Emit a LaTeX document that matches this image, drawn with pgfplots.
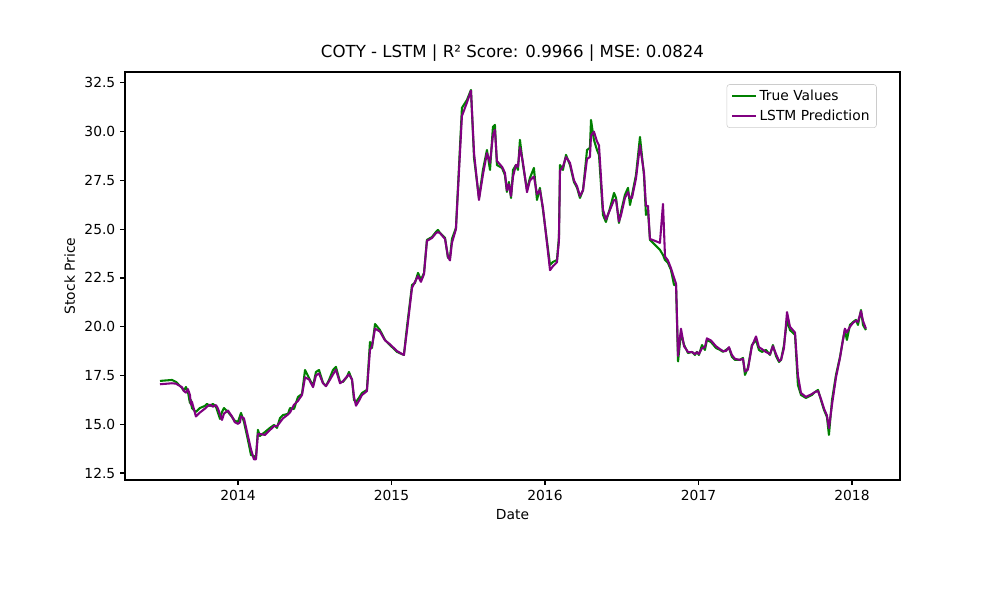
\documentclass[border=0pt]{standalone}
\usepackage{pgfplots}
\pgfplotsset{compat=1.18}
\usepackage{pgfplotstable}
\usepackage{fontspec}
\setmainfont{DejaVu Sans}
\definecolor{mgreen}{RGB}{0,128,0}
\definecolor{mpurple}{RGB}{128,0,128}
\pgfplotstableread{
x true pred
2013.492 17.22 17.05
2013.570 17.27 17.10
2013.596 17.17 17.08
2013.635 16.86 16.90
2013.648 16.71 16.70
2013.661 16.91 16.62
2013.674 16.66 16.80
2013.687 16.09 16.50
2013.694 16.24 16.00
2013.700 15.83 16.15
2013.726 15.63 15.40
2013.752 15.83 15.60
2013.785 15.94 15.80
2013.798 16.04 15.90
2013.818 15.94 16.00
2013.837 16.04 15.90
2013.857 15.89 15.98
2013.870 15.58 15.80
2013.883 15.27 15.50
2013.896 15.63 15.22
2013.909 15.83 15.55
2013.935 15.63 15.70
2013.961 15.37 15.40
2013.980 15.17 15.10
2014.000 15.12 15.02
2014.013 15.42 15.10
2014.020 15.58 15.40
2014.039 15.12 15.30
2014.065 14.19 14.40
2014.085 13.42 13.70
2014.104 13.37 13.20
2014.117 13.27 13.20
2014.130 14.71 14.50
2014.143 14.40 14.50
2014.176 14.60 14.45
2014.208 14.81 14.70
2014.235 14.96 14.90
2014.254 14.81 14.90
2014.274 15.32 15.10
2014.293 15.47 15.30
2014.326 15.53 15.50
2014.339 15.83 15.60
2014.365 15.78 16.00
2014.391 16.40 16.20
2014.417 16.55 16.50
2014.437 17.78 17.40
2014.463 17.37 17.30
2014.489 16.96 16.90
2014.508 17.68 17.50
2014.528 17.78 17.60
2014.554 17.12 17.10
2014.573 16.96 16.95
2014.593 17.27 17.20
2014.619 17.78 17.55
2014.638 17.94 17.80
2014.665 17.17 17.10
2014.684 17.17 17.20
2014.710 17.42 17.45
2014.723 17.68 17.55
2014.743 17.27 17.30
2014.756 16.24 16.40
2014.769 16.14 15.95
2014.788 16.35 16.20
2014.808 16.60 16.50
2014.840 16.76 16.70
2014.860 19.22 18.80
2014.873 18.91 19.00
2014.893 20.14 19.90
2014.925 19.83 19.75
2014.958 19.32 19.30
2014.990 19.06 19.10
2015.036 18.71 18.75
2015.081 18.55 18.55
2015.101 19.99 19.80
2015.134 22.14 22.00
2015.153 22.24 22.30
2015.173 22.76 22.60
2015.192 22.40 22.30
2015.212 22.76 22.70
2015.231 24.45 24.40
2015.264 24.60 24.55
2015.290 24.86 24.80
2015.303 24.96 24.85
2015.316 24.81 24.80
2015.349 24.55 24.50
2015.368 23.53 23.60
2015.381 23.53 23.40
2015.394 24.50 24.30
2015.420 25.06 25.00
2015.459 31.22 30.80
2015.492 31.63 31.50
2015.518 32.14 32.10
2015.538 28.65 28.90
2015.570 26.60 26.50
2015.596 28.04 27.80
2015.622 29.06 28.90
2015.642 28.04 28.40
2015.661 30.24 29.80
2015.674 30.35 30.10
2015.687 28.29 28.50
2015.720 28.14 28.20
2015.739 27.78 27.90
2015.752 26.91 27.00
2015.765 27.42 27.30
2015.779 26.60 26.70
2015.792 28.04 27.70
2015.811 28.29 28.30
2015.824 28.04 28.20
2015.837 29.58 29.20
2015.857 28.29 28.40
2015.883 27.01 26.90
2015.902 27.63 27.50
2015.928 28.14 27.70
2015.948 26.50 26.80
2015.967 27.12 27.00
2015.987 25.99 26.10
2016.033 23.17 22.90
2016.052 23.32 23.10
2016.078 23.42 23.30
2016.091 24.60 24.40
2016.098 28.29 28.00
2016.117 28.04 28.20
2016.137 28.81 28.70
2016.163 28.29 28.40
2016.189 27.42 27.50
2016.209 27.12 27.20
2016.228 26.60 26.70
2016.248 27.01 27.00
2016.274 29.06 28.60
2016.293 29.17 28.70
2016.300 30.60 29.80
2016.319 29.58 30.00
2016.339 29.06 29.50
2016.352 28.81 29.30
2016.378 25.73 26.00
2016.397 25.37 25.50
2016.424 26.09 26.00
2016.450 26.86 26.50
2016.463 26.60 26.50
2016.482 25.32 25.40
2016.495 25.88 25.70
2016.521 26.76 26.60
2016.541 27.12 26.90
2016.554 26.24 26.60
2016.567 26.76 26.60
2016.593 27.78 27.60
2016.619 29.73 29.30
2016.645 27.78 27.90
2016.658 25.73 26.20
2016.671 25.99 26.20
2016.684 24.45 24.50
2016.717 24.19 24.40
2016.749 23.94 24.30
2016.769 23.68 26.30
2016.782 23.42 23.60
2016.801 23.27 23.40
2016.821 22.91 23.00
2016.841 22.14 22.50
2016.854 22.14 22.20
2016.867 18.22 18.50
2016.886 19.68 19.90
2016.906 19.07 19.00
2016.932 18.65 18.70
2016.958 18.71 18.70
2016.977 18.55 18.60
2016.990 18.71 18.70
2017.003 18.55 18.60
2017.023 19.06 18.90
2017.042 18.81 18.95
2017.055 19.32 19.40
2017.081 19.22 19.30
2017.114 18.91 19.00
2017.140 18.81 18.85
2017.160 18.71 18.75
2017.179 18.81 18.75
2017.199 18.91 18.95
2017.218 18.45 18.55
2017.238 18.30 18.35
2017.270 18.30 18.30
2017.290 18.40 18.35
2017.303 17.53 17.70
2017.322 17.89 17.80
2017.348 19.06 19.00
2017.375 19.32 19.50
2017.394 18.81 18.95
2017.414 18.71 18.85
2017.440 18.81 18.70
2017.466 18.55 18.60
2017.485 19.06 19.00
2017.505 18.50 18.60
2017.525 18.19 18.25
2017.538 18.30 18.30
2017.557 19.06 18.90
2017.577 20.35 20.75
2017.596 19.83 20.00
2017.629 19.58 19.70
2017.648 17.01 17.50
2017.668 16.50 16.60
2017.700 16.35 16.40
2017.739 16.50 16.55
2017.759 16.65 16.65
2017.779 16.76 16.70
2017.798 16.24 16.30
2017.818 15.73 15.80
2017.837 15.37 15.45
2017.850 14.45 14.80
2017.870 16.24 16.00
2017.896 17.53 17.40
2017.922 18.45 18.40
2017.941 19.32 19.30
2017.954 19.83 19.90
2017.967 19.32 19.70
2017.987 20.09 20.00
2018.007 20.24 20.20
2018.026 20.35 20.30
2018.039 20.09 20.25
2018.059 20.86 20.80
2018.072 20.09 20.30
2018.091 19.83 19.90
}\data
\begin{document}
\begin{tikzpicture}
\begin{axis}[
  scale only axis, width=7.75in, height=4.08in,
  xmin=2013.264, xmax=2018.313, ymin=12.14, ymax=33.06,
  xtick={2014,2015,2016,2017,2018},
  ytick={12.5,15,17.5,20,22.5,25,27.5,30,32.5},
  /pgf/number format/assume math mode=true,
  xticklabel style={/pgf/number format/1000 sep={}},
  yticklabel style={/pgf/number format/.cd,fixed,fixed zerofill,precision=1},
  tick align=outside, xtick pos=bottom, ytick pos=left,
  tick style={black, line width=0.8pt}, major tick length=3.5pt,
  ticklabel style={font=\fontsize{10}{12}\selectfont},
  xlabel={Date}, ylabel={Stock Price},
  label style={font=\fontsize{10}{12}\selectfont},
  title={COTY - LSTM | R² Score: 0.9966 | MSE: 0.0824},
  title style={font=\fontsize{12}{14}\selectfont, yshift=-2pt},
  legend pos=north east,
  legend style={font=\fontsize{10}{12}\selectfont, draw=black!20, rounded corners=2pt, row sep=1pt},
  legend cell align=left,
  legend image post style={line width=1.5pt},
  every axis plot/.append style={line width=1.5pt, line join=round},
  axis line style={line width=0.8pt},
]
\addplot[mgreen, no marks] table[x=x, y=true] {\data};
\addlegendentry{True Values}
\addplot[mpurple, no marks] table[x=x, y=pred] {\data};
\addlegendentry{LSTM Prediction}
\end{axis}
\path (current axis.south west) ++(-1.25in,-1.2in) rectangle ++(10in,6in);
\end{tikzpicture}
\end{document}
